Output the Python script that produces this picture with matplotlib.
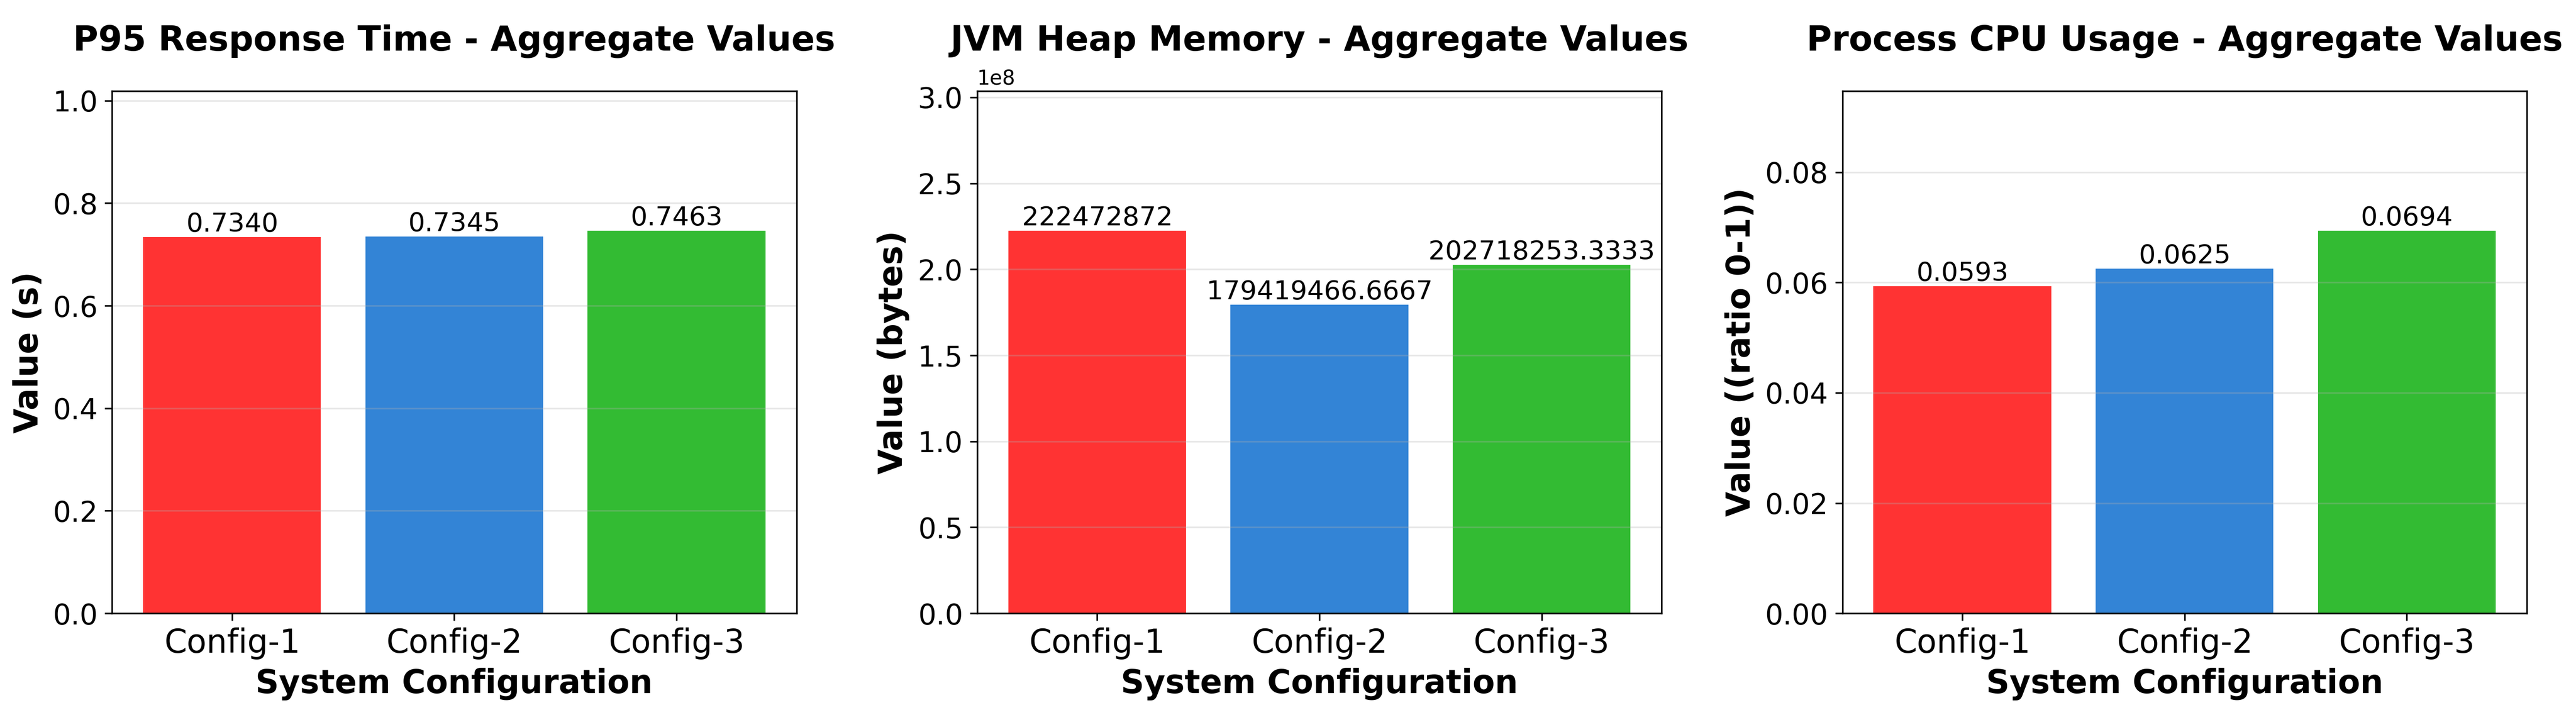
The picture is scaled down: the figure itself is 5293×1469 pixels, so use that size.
import matplotlib
matplotlib.use("Agg")
import matplotlib.pyplot as plt

configs = ["Config-1", "Config-2", "Config-3"]
colors = ["#FF0000", "#0066CC", "#00AA00"]

titles = ["P95 Response Time - Aggregate Values",
          "JVM Heap Memory - Aggregate Values",
          "Process CPU Usage - Aggregate Values"]
ylabels = ["Value (s)", "Value (bytes)", "Value ((ratio 0-1))"]

p95_values = [0.7340, 0.7345, 0.7463]
heap_values = [222472872, 179419466.6667, 202718253.3333]
cpu_values = [0.0593, 0.0625, 0.0694]


def fmt(v):
    if float(v).is_integer():
        return str(int(v))
    return "{:.4f}".format(v)


fig, axes = plt.subplots(1, 3, figsize=(5293 / 300, 1469 / 300))
plt.subplots_adjust(left=0.0435, right=0.9809, bottom=0.1422, top=0.8727, wspace=0.264)

for ax, title, ylabel, vals in zip(axes, titles, ylabels, [p95_values, heap_values, cpu_values]):
    bars = ax.bar(configs, vals, color=colors, alpha=0.8)
    for b, v in zip(bars, vals):
        ax.text(b.get_x() + b.get_width() / 2, b.get_height(), fmt(v),
                ha="center", va="bottom", fontsize=13)
    ax.set_ylim(0, max(vals) * 1.365)
    ax.set_title(title, fontsize=17, fontweight="bold", pad=20)
    ax.set_xlabel("System Configuration", fontsize=16, fontweight="bold")
    ax.set_ylabel(ylabel, fontsize=16, fontweight="bold")
    ax.tick_params(axis="y", labelsize=14)
    ax.tick_params(axis="x", labelsize=16)
    ax.grid(axis="y", alpha=0.3)

plt.savefig("out.png", dpi=300)
